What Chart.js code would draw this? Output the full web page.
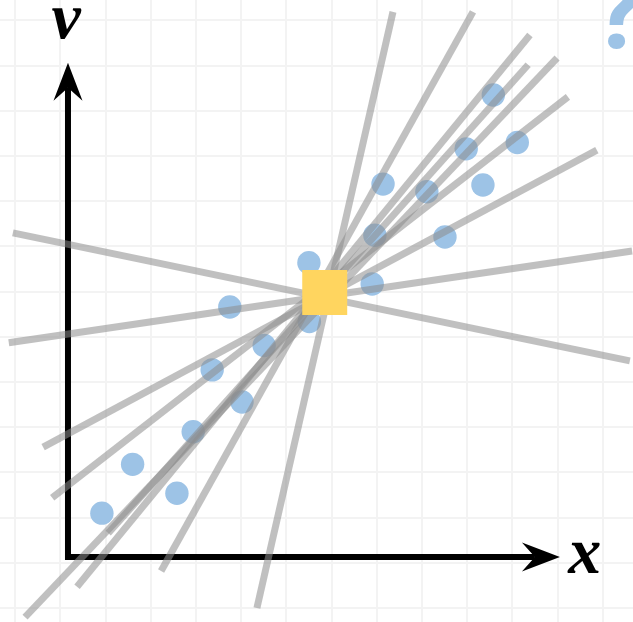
<!DOCTYPE html>
<html>
<head>
<meta charset="utf-8">
<script src="https://cdn.jsdelivr.net/npm/chart.js"></script>
<style>
  html, body { margin: 0; padding: 0; background: #fff; }
  canvas { display: block; }
</style>
</head>
<body>
<canvas id="chartCanvas" width="633" height="622"></canvas>
<script>
// units: one grid cell = 1, origin where the two axes meet
const pointsX = [0.75, 1.43, 2.41, 2.77, 3.85, 3.19, 4.34, 3.58, 5.34, 5.33, 6.73, 6.79, 8.34, 6.97, 7.94, 9.18, 8.81, 9.94, 9.41];
const pointsY = [0.97, 2.05, 1.41, 2.77, 3.43, 4.14, 4.68, 5.53, 5.21, 6.51, 6.04, 7.12, 7.08, 8.25, 8.08, 8.23, 9.03, 9.17, 10.22];

const meanX = [5.68];
const meanY = [5.85];

// trial lines through the mean, start / end
const lineStartX = [-1.22, -1.31, 4.18, 2.06, -0.55, -0.35, -0.95, 0.20, 0.89];
const lineStartY = [7.17, 4.74, -1.13, -0.31, 2.43, 1.31, -1.33, -0.66, 0.53];
const lineEndX = [12.43, 12.48, 7.19, 8.96, 11.70, 11.06, 10.82, 10.22, 10.18];
const lineEndY = [4.34, 6.77, 12.06, 12.06, 9.00, 10.18, 11.04, 11.55, 10.89];

// axis path: top of v-axis, corner, end of x-axis
const axisX = [0, 0, 10.33];
const axisY = [10.38, 0, 0];

const gridX = [-1.17, -0.17, 0.83, 1.83, 2.83, 3.83, 4.83, 5.83, 6.83, 7.83, 8.83, 9.83, 10.83, 11.83];
const gridY = [-1.13, -0.13, 0.87, 1.87, 2.87, 3.87, 4.87, 5.87, 6.87, 7.87, 8.87, 9.87, 10.87, 11.87];

const labelText = ['v', 'x', '?'];
const labelX = [-0.04, 11.43, 12.17];
const labelY = [11.48, -0.35, 11.25];

const labelFont = [
  'italic bold 66px "Liberation Serif"',
  'italic bold 66px "Liberation Serif"',
  'bold 108px Roboto'
];
const labelColor = ['#000', '#000', '#9DC3E6'];

const arrowHeads = {
  id: 'arrowHeads',
  afterDatasetDraw(chart, args) {
    if (args.meta.label !== 'axes') return;
    const pts = args.meta.data;
    const ctx = chart.ctx;
    [[pts[1], pts[0]], [pts[1], pts[2]]].forEach(([from, to]) => {
      const ang = Math.atan2(to.y - from.y, to.x - from.x);
      ctx.save();
      ctx.translate(to.x, to.y);
      ctx.rotate(ang);
      ctx.beginPath();
      ctx.moveTo(25, 0);
      ctx.lineTo(-13, -14.5);
      ctx.lineTo(0, 0);
      ctx.lineTo(-13, 14.5);
      ctx.closePath();
      ctx.fillStyle = '#000';
      ctx.fill();
      ctx.restore();
    });
  }
};

const axisLabels = {
  id: 'axisLabels',
  afterDraw(chart) {
    const { ctx, scales } = chart;
    ctx.save();
    ctx.textAlign = 'center';
    ctx.textBaseline = 'alphabetic';
    labelText.forEach((t, i) => {
      ctx.font = labelFont[i];
      ctx.fillStyle = labelColor[i];
      ctx.fillText(t, scales.x.getPixelForValue(labelX[i]), scales.y.getPixelForValue(labelY[i]));
    });
    ctx.restore();
  }
};

const datasets = [];

datasets.push({
  label: 'mean',
  data: meanX.map((x, i) => ({ x, y: meanY[i] })),
  pointStyle: 'rect',
  pointRadius: 31.8,
  pointBackgroundColor: '#FFD55F',
  pointBorderWidth: 0,
  order: 0
});

lineStartX.forEach((x, i) => {
  datasets.push({
    label: 'line' + i,
    data: [{ x, y: lineStartY[i] }, { x: lineEndX[i], y: lineEndY[i] }],
    showLine: true,
    borderColor: 'rgba(140,140,140,0.55)',
    borderWidth: 7,
    borderCapStyle: 'butt',
    pointRadius: 0,
    order: 1
  });
});

datasets.push({
  label: 'points',
  data: pointsX.map((x, i) => ({ x, y: pointsY[i] })),
  pointRadius: 11.7,
  pointBackgroundColor: '#9DC3E6',
  pointBorderWidth: 0,
  order: 2
});

datasets.push({
  label: 'axes',
  data: axisX.map((x, i) => ({ x, y: axisY[i] })),
  showLine: true,
  borderColor: '#000',
  borderWidth: 6,
  borderJoinStyle: 'miter',
  borderCapStyle: 'butt',
  pointRadius: 0,
  order: 3
});

new Chart(document.getElementById('chartCanvas'), {
  type: 'scatter',
  data: { datasets },
  options: {
    responsive: false,
    devicePixelRatio: 1,
    animation: false,
    layout: { padding: 0, autoPadding: false },
    plugins: { legend: { display: false }, tooltip: { enabled: false } },
    elements: { line: { tension: 0 } },
    datasets: { scatter: { clip: false } },
    scales: {
      x: {
        type: 'linear',
        min: -1.504,
        max: 12.5,
        afterBuildTicks: s => { s.ticks = gridX.map(v => ({ value: v })); },
        ticks: { display: false },
        grid: { color: '#f3f3f3', lineWidth: 2, drawTicks: false },
        border: { display: false }
      },
      y: {
        type: 'linear',
        min: -1.438,
        max: 12.323,
        afterBuildTicks: s => { s.ticks = gridY.map(v => ({ value: v })); },
        ticks: { display: false },
        grid: { color: '#f3f3f3', lineWidth: 2, drawTicks: false },
        border: { display: false }
      }
    }
  },
  plugins: [arrowHeads, axisLabels]
});
</script>
</body>
</html>
